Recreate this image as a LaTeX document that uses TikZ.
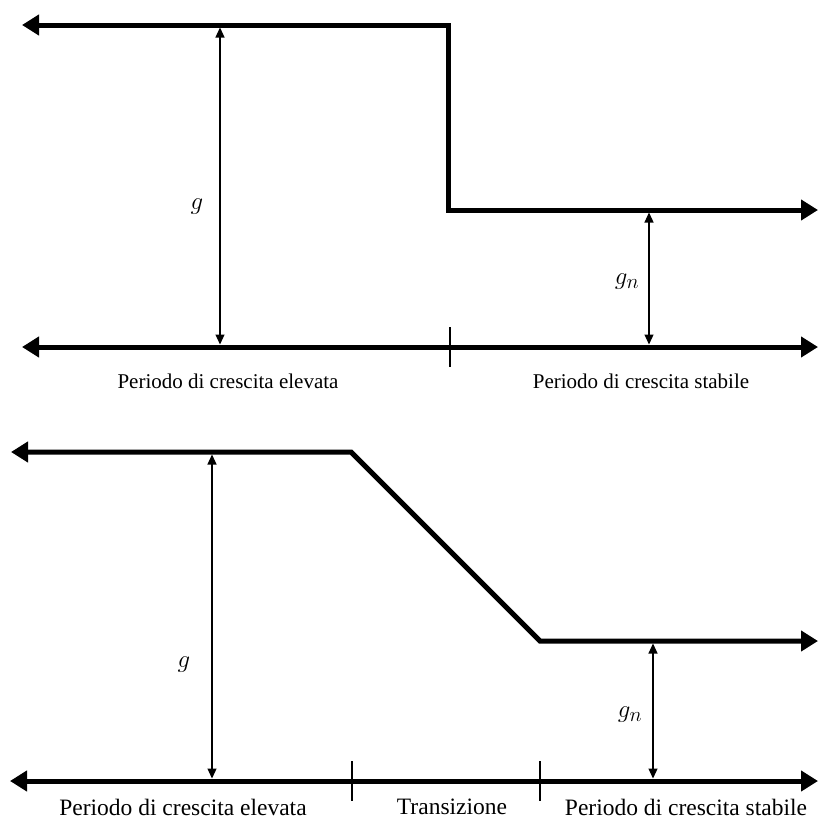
\documentclass[tikz,border=0pt]{standalone}
\usepackage{fontspec}
\setmainfont{Liberation Serif}
\usetikzlibrary{arrows.meta}
\tikzset{
  thickline/.style={line width=5pt, line join=miter},
  bigtip/.style={-{Triangle[length=17pt,width=20pt]}},
  bigtips/.style={{Triangle[length=17pt,width=20pt]}-{Triangle[length=17pt,width=20pt]}},
  measure/.style={line width=1.2pt, {Triangle[length=10pt,width=9pt]}-{Triangle[length=10pt,width=9pt]}},
  tickmark/.style={line width=1.1pt},
  lbl/.style={font=\fontsize{21}{24}\selectfont, inner sep=0pt, anchor=center},
  lblb/.style={font=\fontsize{23.5}{27}\selectfont, inner sep=0pt, anchor=center},
  sym/.style={font=\fontsize{28}{31}\selectfont, inner sep=0pt, anchor=center}
}
\begin{document}
\begin{tikzpicture}[x=1pt,y=-1pt]
\useasboundingbox (0,0) rectangle (818,819);
% ---------- top diagram ----------
\coordinate (tl) at (22,25);
\coordinate (tc) at (448,25);
\coordinate (tb) at (448,210);
\coordinate (tr) at (818,210);
\coordinate (axl) at (22,347);
\coordinate (axr) at (818,347);
\coordinate (tk1a) at (450,327);
\coordinate (tk1b) at (450,367);
\coordinate (ga) at (220,27.5);
\coordinate (gb) at (220,344.5);
\coordinate (gna) at (649,212.5);
\coordinate (gnb) at (649,344.5);
\draw[thickline, bigtips] (tl) -- (tc) -- (tb) -- (tr);
\draw[thickline, bigtips] (axl) -- (axr);
\draw[tickmark] (tk1a) -- (tk1b);
\draw[measure] (ga) -- (gb);
\draw[measure] (gna) -- (gnb);
\node[sym] (g1) at (197,207) {$g$};
\node[sym] (gn1) at (627,282) {$g_n$};
\node[lbl] (e1) at (228,381) {Periodo di crescita elevata};
\node[lbl] (s1) at (641,381) {Periodo di crescita stabile};
% ---------- bottom diagram ----------
\coordinate (bl) at (11,452);
\coordinate (bc1) at (351,452);
\coordinate (bc2) at (540,641);
\coordinate (br) at (818,641);
\coordinate (bxl) at (10,781);
\coordinate (bxr) at (818,781);
\coordinate (tk2a) at (352,761);
\coordinate (tk2b) at (352,801);
\coordinate (tk3a) at (540,761);
\coordinate (tk3b) at (540,801);
\coordinate (ha) at (212,454.5);
\coordinate (hb) at (212,778.5);
\coordinate (hna) at (653,643.5);
\coordinate (hnb) at (653,778.5);
\draw[thickline, bigtips] (bl) -- (bc1) -- (bc2) -- (br);
\draw[thickline, bigtips] (bxl) -- (bxr);
\draw[tickmark] (tk2a) -- (tk2b);
\draw[tickmark] (tk3a) -- (tk3b);
\draw[measure] (ha) -- (hb);
\draw[measure] (hna) -- (hnb);
\node[sym] (g2) at (184,665) {$g$};
\node[sym] (gn2) at (630,715) {$g_n$};
\node[lblb] (e2) at (183,807) {Periodo di crescita elevata};
\node[lblb] (t2) at (452,807) {Transizione};
\node[lblb] (s2) at (686,807) {Periodo di crescita stabile};
\end{tikzpicture}
\end{document}
